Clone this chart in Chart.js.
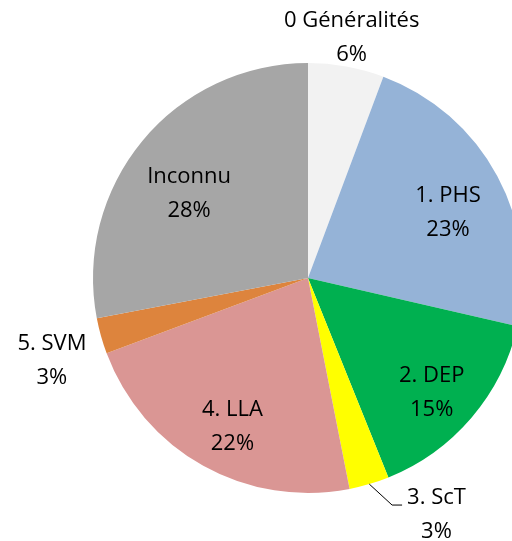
<!DOCTYPE html>
<html lang="fr">
<head>
    <meta charset="UTF-8">
    <title>Répartition</title>
    <script src="https://cdn.jsdelivr.net/npm/chart.js"></script>
    <style>
        body { margin: 0; background: #fff; }
        .wrap { width: 512px; height: 541px; overflow: hidden; }
        canvas { display: block; }
    </style>
</head>
<body>
    <div class="wrap">
        <canvas id="pieChart" width="616" height="541"></canvas>
    </div>
    <script>
        const categories = ['0 Généralités', '1. PHS', '2. DEP', '3. ScT', '4. LLA', '5. SVM', 'Inconnu'];
        const shares = [5.7, 22.9, 15.3, 3.0, 22.4, 2.7, 28.0];
        const colors = ['#f2f2f2', '#95b3d7', '#00b050', '#ffff00', '#da9694', '#dd843d', '#a6a6a6'];

        // where each label sits: radius factor and angle shift (degrees)
        const labelPlace = [
            { r: 1.14, a: 0 },
            { r: 0.72, a: 3 },
            { r: 0.78, a: 2 },
            { r: 1.25, a: -12, leader: true },
            { r: 0.77, a: -2 },
            { r: 1.25, a: -2 },
            { r: 0.68, a: -4 }
        ];

        const labelPlugin = {
            id: 'pieLabels',
            afterDatasetsDraw(chart) {
                const ctx = chart.ctx;
                const meta = chart.getDatasetMeta(0);
                const data = chart.data.datasets[0].data;
                const total = data.reduce((a, b) => a + b, 0);
                ctx.save();
                ctx.font = '22px "Open Sans"';
                ctx.fillStyle = '#000';
                ctx.textAlign = 'center';
                ctx.textBaseline = 'middle';
                meta.data.forEach((arc, i) => {
                    const p = arc.getProps(['x', 'y', 'startAngle', 'endAngle', 'outerRadius'], true);
                    const mid = (p.startAngle + p.endAngle) / 2;
                    const place = labelPlace[i];
                    const ang = mid + place.a * Math.PI / 180;
                    const lx = p.x + Math.cos(ang) * p.outerRadius * place.r;
                    const ly = p.y + Math.sin(ang) * p.outerRadius * place.r;
                    const pct = Math.round(data[i] / total * 100) + '%';
                    if (place.leader) {
                        const ex = p.x + Math.cos(mid) * p.outerRadius;
                        const ey = p.y + Math.sin(mid) * p.outerRadius;
                        const w = ctx.measureText(chart.data.labels[i]).width;
                        const tx = lx - w / 2 - 5;
                        const ty = ly - 9;
                        ctx.strokeStyle = '#000';
                        ctx.lineWidth = 1;
                        ctx.beginPath();
                        ctx.moveTo(ex, ey);
                        ctx.lineTo(tx - 10, ty);
                        ctx.lineTo(tx, ty);
                        ctx.stroke();
                    }
                    ctx.fillText(chart.data.labels[i], lx, ly - 16);
                    ctx.fillText(pct, lx, ly + 18);
                });
                ctx.restore();
            }
        };

        new Chart(document.getElementById('pieChart').getContext('2d'), {
            type: 'pie',
            data: {
                labels: categories,
                datasets: [{
                    data: shares,
                    backgroundColor: colors,
                    borderWidth: 0
                }]
            },
            options: {
                responsive: false,
                animation: false,
                layout: {
                    padding: { left: 93, right: 93, top: 63, bottom: 48 }
                },
                plugins: {
                    legend: { display: false },
                    tooltip: { enabled: false }
                }
            },
            plugins: [labelPlugin]
        });
    </script>
</body>
</html>
